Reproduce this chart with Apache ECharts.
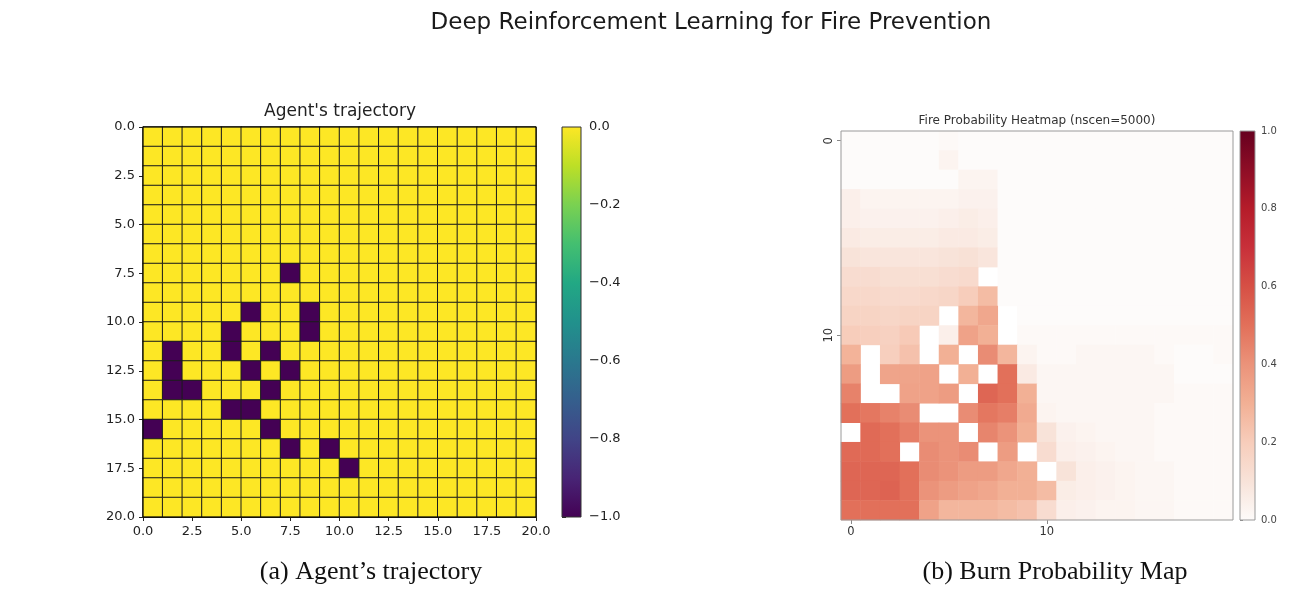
<!DOCTYPE html>
<html>
<head>
<meta charset="utf-8">
<script src="https://cdn.jsdelivr.net/npm/echarts@6/dist/echarts.min.js"></script>
<style>
  html, body { margin: 0; padding: 0; background: #ffffff; }
  #chart { width: 1307px; height: 590px; }
</style>
</head>
<body>
<div id="chart"></div>
<script>
// ---- data -------------------------------------------------------------
const gridSize = 20;

// cells visited by the agent, as [row, col]
const trajectoryCells = [
  [7, 7], [9, 5], [9, 8], [10, 4], [10, 8], [11, 1], [11, 4], [11, 6],
  [12, 1], [12, 5], [12, 7], [13, 1], [13, 2], [13, 6], [14, 4], [14, 5],
  [15, 0], [15, 6], [16, 7], [16, 9], [17, 10]
];
const visitedValue = -1;
const freeValue = 0;
const trajectoryRange = [-1, 0];
const trajectoryTickStep = 2.5;
const trajectoryColorStep = 0.2;

// burn probability per cell (row by row), null = firebreak cell
const burnProb = [
  [0, 0, 0, 0, 0, 0.01, 0, 0, 0, 0, 0, 0, 0, 0, 0, 0, 0, 0, 0, 0],
  [0, 0, 0, 0, 0, 0.03, 0, 0, 0, 0, 0, 0, 0, 0, 0, 0, 0, 0, 0, 0],
  [0, 0, 0, 0, 0, 0, 0.03, 0.03, 0, 0, 0, 0, 0, 0, 0, 0, 0, 0, 0, 0],
  [0.05, 0.03, 0.03, 0.03, 0.03, 0.03, 0.04, 0.04, 0, 0, 0, 0, 0, 0, 0, 0, 0, 0, 0, 0],
  [0.05, 0.04, 0.04, 0.04, 0.04, 0.05, 0.06, 0.05, 0, 0, 0, 0, 0, 0, 0, 0, 0, 0, 0, 0],
  [0.07, 0.06, 0.06, 0.06, 0.06, 0.07, 0.07, 0.06, 0, 0, 0, 0, 0, 0, 0, 0, 0, 0, 0, 0],
  [0.10, 0.09, 0.09, 0.09, 0.09, 0.10, 0.11, 0.09, 0, 0, 0, 0, 0, 0, 0, 0, 0, 0, 0, 0],
  [0.13, 0.13, 0.12, 0.12, 0.12, 0.13, 0.14, null, 0, 0, 0, 0, 0, 0, 0, 0, 0, 0, 0, 0],
  [0.15, 0.15, 0.14, 0.14, 0.15, 0.16, 0.20, 0.26, 0, 0, 0, 0, 0, 0, 0, 0, 0, 0, 0, 0],
  [0.17, 0.17, 0.16, 0.17, 0.17, null, 0.28, 0.33, null, 0, 0, 0, 0, 0, 0, 0, 0, 0, 0, 0],
  [0.20, 0.19, 0.18, 0.21, null, 0.05, 0.35, 0.30, null, 0.01, 0.01, 0.01, 0.01, 0.01, 0.01, 0.01, 0.01, 0.01, 0.01, 0.01],
  [0.29, null, 0.19, 0.24, null, 0.30, null, 0.42, 0.28, 0.03, 0.01, 0.01, 0.02, 0.02, 0.02, 0.02, 0.01, 0, 0, 0.01],
  [0.37, null, 0.34, 0.34, 0.35, null, 0.30, null, 0.50, 0.07, 0.02, 0.02, 0.02, 0.02, 0.02, 0.02, 0.02, 0, 0, 0],
  [0.45, null, null, 0.35, 0.35, 0.37, null, 0.53, 0.50, 0.30, 0.02, 0.02, 0.02, 0.02, 0.02, 0.02, 0.02, 0.01, 0.01, 0.01],
  [0.50, 0.48, 0.45, 0.42, null, null, 0.42, 0.48, 0.46, 0.32, 0.03, 0.02, 0.02, 0.02, 0.02, 0.02, 0.01, 0.01, 0.01, 0.01],
  [null, 0.52, 0.50, 0.46, 0.40, 0.40, null, 0.44, 0.40, 0.30, 0.10, 0.04, 0.03, 0.02, 0.02, 0.02, 0.01, 0.01, 0.01, 0.01],
  [0.52, 0.52, 0.50, null, 0.42, 0.40, 0.42, null, 0.37, null, 0.13, 0.05, 0.04, 0.03, 0.02, 0.02, 0.01, 0.01, 0.01, 0.01],
  [0.53, 0.53, 0.53, 0.50, 0.42, 0.40, 0.37, 0.37, 0.33, 0.30, null, 0.10, 0.05, 0.04, 0.03, 0.02, 0.02, 0.01, 0.01, 0.01],
  [0.53, 0.53, 0.54, 0.50, 0.40, 0.37, 0.35, 0.33, 0.30, 0.30, 0.26, 0.06, 0.05, 0.04, 0.03, 0.02, 0.02, 0.01, 0.01, 0.01],
  [0.50, 0.50, 0.50, 0.50, 0.35, 0.28, 0.28, 0.28, 0.26, 0.24, 0.13, 0.05, 0.04, 0.03, 0.03, 0.02, 0.02, 0.01, 0.01, 0.01]
];
const probRange = [0, 1];
const probColorStep = 0.2;
const probTickEvery = 10;

// colour ramps
const viridis = ['#440154', '#482475', '#414487', '#355f8d', '#2a788e', '#21918c',
                 '#22a884', '#44bf70', '#7ad151', '#bddf26', '#fde725'];
const redsRamp = ['#fdfbfa', '#f8e3d9', '#f7cdbb', '#f2b095', '#eb937a', '#e2705a',
                  '#d65045', '#c8303a', '#b51c2a', '#8e0d26', '#66001f'];

// ---- series data built from the arrays above --------------------------
const indices = Array.from({ length: gridSize }, (_, i) => String(i));

const trajectoryGrid = [];
for (let r = 0; r < gridSize; r++) {
  trajectoryGrid.push(new Array(gridSize).fill(freeValue));
}
trajectoryCells.forEach(([r, c]) => { trajectoryGrid[r][c] = visitedValue; });

const trajectoryData = [];
const burnData = [];
for (let r = 0; r < gridSize; r++) {
  for (let c = 0; c < gridSize; c++) {
    trajectoryData.push([c, r, trajectoryGrid[r][c]]);
    const p = burnProb[r][c];
    burnData.push([c, r, p === null ? '-' : p]);
  }
}

// ---- helpers -----------------------------------------------------------
const sans = 'DejaVu Sans';
const fmt1 = v => (v < 0 ? '\u2212' : '') + Math.abs(v).toFixed(1);

function colorbarRenderer(stops, stroke) {
  return function (params, api) {
    const topLeft = api.coord([api.value(0), api.value(3)]);
    const bottomRight = api.coord([api.value(2), api.value(1)]);
    return {
      type: 'rect',
      shape: {
        x: topLeft[0], y: topLeft[1],
        width: bottomRight[0] - topLeft[0],
        height: bottomRight[1] - topLeft[1]
      },
      style: {
        fill: new echarts.graphic.LinearGradient(0, 1, 0, 0,
          stops.map((c, i) => ({ offset: i / (stops.length - 1), color: c }))),
        stroke: stroke,
        lineWidth: 1
      }
    };
  };
}

const showEvery = i => i % probTickEvery === 0;

// ---- chart -------------------------------------------------------------
const chart = echarts.init(document.getElementById('chart'), null, { renderer: 'canvas' });

chart.setOption({
  animation: false,
  backgroundColor: '#ffffff',
  textStyle: { fontFamily: sans },
  graphic: [
    { type: 'text', x: 711, y: 23,
      style: { text: 'Deep Reinforcement Learning for Fire Prevention', fontFamily: sans,
               fontSize: 23, fill: '#1a1a1a', align: 'center', verticalAlign: 'middle' } },
    { type: 'text', x: 340, y: 112,
      style: { text: "Agent's trajectory", fontFamily: sans, fontSize: 17,
               fill: '#222', align: 'center', verticalAlign: 'middle' } },
    { type: 'text', x: 1037, y: 121,
      style: { text: 'Fire Probability Heatmap (nscen=5000)', fontFamily: sans, fontSize: 12,
               fill: '#333', align: 'center', verticalAlign: 'middle' } },
    { type: 'text', x: 371, y: 572,
      style: { text: '(a) Agent\u2019s trajectory', fontFamily: 'Liberation Serif', fontSize: 26,
               fill: '#111', align: 'center', verticalAlign: 'middle' } },
    { type: 'text', x: 1055, y: 572,
      style: { text: '(b) Burn Probability Map', fontFamily: 'Liberation Serif', fontSize: 26,
               fill: '#111', align: 'center', verticalAlign: 'middle' } }
  ],
  grid: [
    { left: 143, top: 127, width: 393, height: 390, show: true, borderColor: '#000', borderWidth: 1,
      backgroundColor: 'transparent', z: 5 },
    { left: 562, top: 127, width: 19, height: 390 },
    { left: 841, top: 131, width: 392, height: 389, show: true, borderColor: '#9a9a9a', borderWidth: 1,
      backgroundColor: 'transparent', z: 5 },
    { left: 1240, top: 131, width: 15, height: 389 }
  ],
  visualMap: [
    { type: 'continuous', show: false, seriesIndex: 0, dimension: 2,
      min: trajectoryRange[0], max: trajectoryRange[1], inRange: { color: viridis } },
    { type: 'continuous', show: false, seriesIndex: 2, dimension: 2,
      min: probRange[0], max: probRange[1], inRange: { color: redsRamp } }
  ],
  xAxis: [
    { gridIndex: 0, type: 'category', data: indices, show: false },
    { gridIndex: 0, type: 'value', min: 0, max: gridSize, interval: trajectoryTickStep, position: 'bottom',
      axisLine: { show: true, lineStyle: { color: '#000', width: 1 } },
      axisTick: { show: true, length: 4, lineStyle: { color: '#222' } },
      axisLabel: { fontSize: 13, color: '#222', margin: 8, formatter: fmt1 },
      splitLine: { show: false } },
    { gridIndex: 1, type: 'value', min: 0, max: 1, show: false },
    { gridIndex: 2, type: 'category', data: indices, position: 'bottom',
      axisLine: { show: false },
      axisTick: { show: true, interval: showEvery, alignWithLabel: true, length: 4,
                  lineStyle: { color: '#888' } },
      axisLabel: { interval: showEvery, fontSize: 11.5, color: '#333', margin: 6 },
      splitLine: { show: false } },
    { gridIndex: 3, type: 'value', min: 0, max: 1, show: false }
  ],
  yAxis: [
    { gridIndex: 0, type: 'category', data: indices, inverse: true, show: false },
    { gridIndex: 0, type: 'value', min: 0, max: gridSize, interval: trajectoryTickStep, inverse: true,
      position: 'left',
      axisLine: { show: true, lineStyle: { color: '#000', width: 1 } },
      axisTick: { show: true, length: 4, lineStyle: { color: '#222' } },
      axisLabel: { fontSize: 13, color: '#222', margin: 8, formatter: fmt1 },
      splitLine: { show: false } },
    { gridIndex: 1, type: 'value', min: trajectoryRange[0], max: trajectoryRange[1],
      interval: trajectoryColorStep, position: 'right',
      axisLine: { show: false },
      axisTick: { show: true, length: 4, lineStyle: { color: '#222' } },
      axisLabel: { fontSize: 13, color: '#222', margin: 8, formatter: fmt1 },
      splitLine: { show: false } },
    { gridIndex: 2, type: 'category', data: indices, inverse: true, position: 'left',
      axisLine: { show: false },
      axisTick: { show: true, interval: showEvery, alignWithLabel: true, length: 4,
                  lineStyle: { color: '#888' } },
      axisLabel: { interval: showEvery, fontSize: 11.5, color: '#333', margin: 6, rotate: 90 },
      splitLine: { show: false } },
    { gridIndex: 3, type: 'value', min: probRange[0], max: probRange[1], interval: probColorStep,
      position: 'right',
      axisLine: { show: false },
      axisTick: { show: true, length: 3, lineStyle: { color: '#888' } },
      axisLabel: { fontSize: 10, color: '#444', margin: 6, formatter: v => v.toFixed(1) },
      splitLine: { show: false } }
  ],
  series: [
    { type: 'heatmap', xAxisIndex: 0, yAxisIndex: 0, data: trajectoryData,
      itemStyle: { borderColor: '#1c1c1c', borderWidth: 1 },
      emphasis: { disabled: true } },
    { type: 'custom', xAxisIndex: 2, yAxisIndex: 2, clip: false,
      data: [[0, trajectoryRange[0], 1, trajectoryRange[1]]],
      renderItem: colorbarRenderer(viridis, '#333') },
    { type: 'heatmap', xAxisIndex: 3, yAxisIndex: 3, data: burnData,
      emphasis: { disabled: true } },
    { type: 'custom', xAxisIndex: 4, yAxisIndex: 4, clip: false,
      data: [[0, probRange[0], 1, probRange[1]]],
      renderItem: colorbarRenderer(redsRamp, '#999') }
  ]
});
</script>
</body>
</html>
